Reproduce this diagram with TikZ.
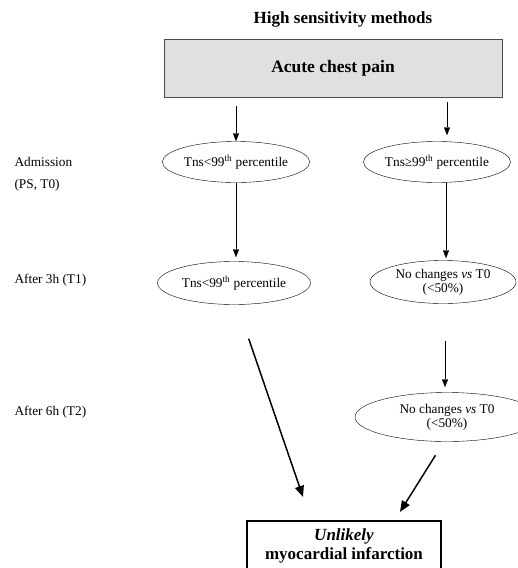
\documentclass[tikz,border=0pt]{standalone}
\usepackage{fontspec}
\setmainfont{Liberation Serif}
\usetikzlibrary{shapes.geometric,arrows.meta}

\begin{document}
\begin{tikzpicture}[x=1pt,y=-1pt,
  >={Triangle[width=6pt,length=8pt]},
  oval/.style={draw, ellipse, inner sep=0pt, font=\fontsize{13.3}{14}\selectfont, align=center},
  lbl/.style={anchor=west, font=\fontsize{13.3}{14}\selectfont}]
\useasboundingbox (0,0) rectangle (518,568);

\node[font=\bfseries\fontsize{17}{19}\selectfont] (title) at (343,19) {High sensitivity methods};
\node[draw=black!70, fill=black!12, minimum width=338pt, minimum height=58pt,
      font=\bfseries\fontsize{17.5}{19}\selectfont] (pain) at (333,68) {Acute chest pain};

\node[lbl] (t0) at (11,162) {Admission};
\node[lbl] (ps) at (11,185) {(PS, T0)};
\node[lbl] (t1) at (11,280) {After 3h (T1)};
\node[lbl] (t2) at (11,412) {After 6h (T2)};

\node[oval, minimum width=133pt, minimum height=41pt] (a) at (236,162) {Tns<99\textsuperscript{th} percentile};
\node[oval, minimum width=132pt, minimum height=41pt] (b) at (437,162) {Tns≥99\textsuperscript{th} percentile};
\path[draw,->] (pain.south -| a) ++(0,-9pt) -- (a.north);
\path[draw,->] ([xshift=10pt,yshift=-5pt]pain.south -| b) -- ([xshift=10pt,yshift=6pt]b.north);

\node[oval, minimum width=153pt, minimum height=43pt] (c) at (234,283) {Tns<99\textsuperscript{th} percentile};
\node[oval, minimum width=146pt, minimum height=43pt] (d) at (443,282) {No changes \textit{vs} T0\\(<50\%)};
\path[draw,->] (a.south) -- ([yshift=4pt]a.south |- c.north);
\path[draw,->] ([xshift=9pt]b.south) -- ([xshift=9pt,yshift=2pt]b.south |- d.north);

\node[oval, minimum width=184pt, minimum height=49pt] (e) at (447,417) {No changes \textit{vs} T0\\(<50\%)};
\path[draw,->] ([xshift=2pt,yshift=-37pt]d.south) -- ([xshift=2pt,yshift=5pt]d.south |- e.north);

\node[draw, line width=2.2pt, minimum width=194pt, minimum height=50pt, align=center,
      font=\bfseries\fontsize{17}{18.5}\selectfont] (mi) at (344,546) {\textit{Unlikely}\\myocardial infarction};
\coordinate (m1) at ([xshift=-41pt,yshift=23pt]mi.north);
\coordinate (m2) at ([xshift=56pt,yshift=8pt]mi.north);
\path[draw,line width=1.5pt,-{Triangle[width=9pt,length=11pt]},shorten <=36pt] ([xshift=3pt]c.south) -- (m1);
\path[draw,line width=1.5pt,-{Triangle[width=9pt,length=11pt]},shorten <=16pt] ([xshift=-3pt]e.south) -- (m2);
\end{tikzpicture}
\end{document}
